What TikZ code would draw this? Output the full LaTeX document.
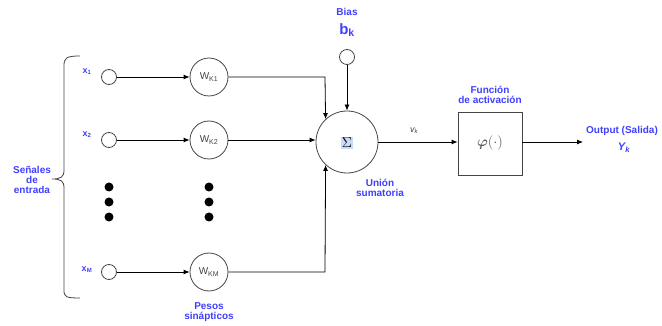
\documentclass[tikz,border=0pt]{standalone}
\usepackage{amsmath}
\usepackage{fontspec}
\setmainfont{Liberation Sans}
\usetikzlibrary{arrows.meta,decorations.pathreplacing}
\definecolor{lblue}{HTML}{3F3FFF}
\definecolor{lgray}{HTML}{444444}
\definecolor{hl}{HTML}{C8DCF8}
\tikzset{
  blu/.style={text=lblue,font=\bfseries\fontsize{10}{12}\selectfont,align=center},
  xlab/.style={text=lblue,font=\bfseries\fontsize{9}{10}\selectfont},
  inp/.style={circle,draw=lgray,line width=0.8pt,minimum size=15pt,inner sep=0pt},
  wc/.style={circle,draw=lgray,line width=0.8pt,minimum size=38pt,inner sep=0pt,text=lgray,font=\fontsize{10}{11}\selectfont},
  dotn/.style={circle,fill=black,minimum size=9pt,inner sep=0pt},
  con/.style={line width=0.8pt,-{Latex[length=6pt,width=5pt]}},
  ln/.style={line width=0.8pt}
}
\begin{document}
\begin{tikzpicture}[x=1pt,y=-1pt]
\useasboundingbox (0,0) rectangle (662,326);
% brace
\draw[ln,lgray] (80,56) .. controls (66,56) and (64,58) .. (64,66) -- (64,170) .. controls (64,177) and (61,179) .. (52,179)
  .. controls (61,179) and (64,181) .. (64,188) -- (64,290) .. controls (64,297) and (66,298) .. (80,298);
\node[blu] (sen) at (32,180) {Señales\\[-2pt]de\\[-2pt]entrada};
% inputs
\node[inp] (x1) at (109,77) {};
\node[inp] (x2) at (109,140) {};
\node[inp] (xm) at (109,272) {};
\node[xlab] (lx1) at (87,72) {x\textsubscript{1}};
\node[xlab] (lx2) at (87,135) {x\textsubscript{2}};
\node[xlab] (lxm) at (87,270) {x\textsubscript{M}};
\node[dotn] (d1) at (109,187) {};
\node[dotn] (d2) at (109,202) {};
\node[dotn] (d3) at (109,217) {};
% weights
\node[wc] (w1) at (209,77) {W\textsubscript{K1}};
\node[wc] (w2) at (209,140) {W\textsubscript{K2}};
\node[wc] (wm) at (209,272) {W\textsubscript{KM}};
\node[dotn] (e1) at (209,187) {};
\node[dotn] (e2) at (209,202) {};
\node[dotn] (e3) at (209,217) {};
\node[blu] (pes) at (209,312) {Pesos\\[-2pt]sinápticos};
\draw[con] (x1) -- (w1);
\draw[con] (x2) -- (w2);
\draw[con] (xm) -- (wm);
% sum
\node[circle,draw=lgray,line width=0.8pt,minimum size=62pt,inner sep=0pt] (s) at (347,142) {};
\node[fill=hl,inner sep=0.8pt,font=\fontsize{14}{14}\selectfont] (sig) at (347,143) {$\Sigma$};
\node[inp] (b) at (347,57) {};
\node[blu] (bias) at (347,12) {Bias};
\node[text=lblue,font=\bfseries\fontsize{15}{15}\selectfont] (bk) at (347,30) {b\textsubscript{k}};
\draw[con] (b) -- (s);
\coordinate (c1) at (325,77);
\coordinate (cm) at (325,272);
\draw[con] (w1) -- (c1) -- (s.{135-2});
\draw[con] (wm) -- (cm) -- (s.{225+2});
\draw[con] (w2) -- (w2 -| s.west);
\node[blu] (un) at (380,188) {Unión\\[-2pt]sumatoria};
% activation
\node[draw=lgray,line width=0.8pt,minimum width=64pt,minimum height=63pt,inner sep=0pt] (f) at (490,143.5) {};
\node[text=black!65,font=\fontsize{15}{15}\selectfont] (phi) at (490,143) {$\boldsymbol{\varphi}\mathbf{(\cdot)}$};
\node[blu] (fa) at (490,95) {Función\\[-2pt]de activación};
\draw[con] (s.east) -- (s.east -| f.west);
\node[font=\itshape\fontsize{9}{10}\selectfont,text=lgray] (vk) at (414,131) {v\textsubscript{k}};
\coordinate (o) at (583,142);
\draw[con] (f.east |- o) -- (o);
\node[blu] (out) at (622,131) {Output (Salida)};
\node[text=lblue,font=\bfseries\itshape\fontsize{11}{12}\selectfont] (yk) at (624,148) {Y\textsubscript{k}};
\end{tikzpicture}
\end{document}
